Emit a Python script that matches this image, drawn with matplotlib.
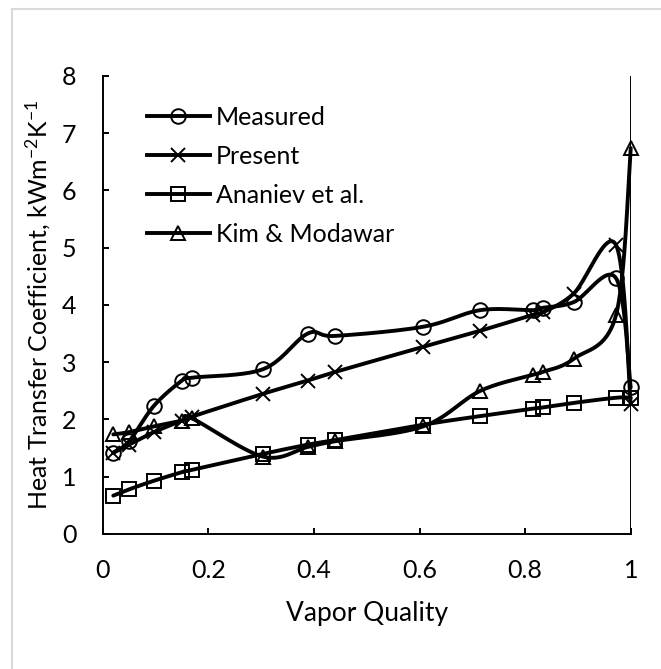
import numpy as np
import matplotlib
matplotlib.use("Agg")
import matplotlib.pyplot as plt
from matplotlib.lines import Line2D
from matplotlib.patches import Rectangle

plt.rcParams['font.family'] = ['Lato', 'DejaVu Sans']
plt.rcParams['mathtext.fontset'] = 'custom'
plt.rcParams['mathtext.rm'] = 'Lato'
plt.rcParams['mathtext.it'] = 'Lato:italic'

# vapor quality (same for every series)
quality = [0.02, 0.05, 0.097, 0.15, 0.169, 0.304, 0.388, 0.44, 0.607,
           0.715, 0.815, 0.833, 0.892, 0.972, 1.0]

measured = [1.42, 1.62, 2.24, 2.68, 2.73, 2.88, 3.50, 3.46, 3.62,
            3.91, 3.91, 3.95, 4.05, 4.47, 2.56]
present = [1.42, 1.56, 1.78, 1.98, 2.05, 2.45, 2.68, 2.83, 3.27,
           3.55, 3.83, 3.87, 4.20, 5.05, 2.27]
ananiev = [0.67, 0.78, 0.93, 1.08, 1.12, 1.40, 1.56, 1.64, 1.91,
           2.06, 2.19, 2.21, 2.29, 2.38, 2.38]
kim = [1.74, 1.78, 1.88, 1.98, 2.02, 1.35, 1.52, 1.62, 1.88,
       2.50, 2.78, 2.83, 3.06, 3.82, 6.74]

labels = ['Measured', 'Present', 'Ananiev et al.', 'Kim & Modawar']
markers = ['o', 'x', 's', '^']


def smooth(x, y, n=30):
    # excel like smoothed line (bezier through points, 1/6 tangents)
    p = np.column_stack([x, y]).astype(float)
    p_ext = np.vstack([p[0], p, p[-1]])
    xs, ys = [], []
    t = np.linspace(0, 1, n)
    for i in range(len(p) - 1):
        p0, p1, p2, p3 = p_ext[i], p_ext[i + 1], p_ext[i + 2], p_ext[i + 3]
        c1 = p1 + (p2 - p0) / 6
        c2 = p2 - (p3 - p1) / 6
        seg = ((1 - t)**3)[:, None] * p1 + (3 * (1 - t)**2 * t)[:, None] * c1 \
            + (3 * (1 - t) * t**2)[:, None] * c2 + (t**3)[:, None] * p2
        xs.extend(seg[:, 0])
        ys.extend(seg[:, 1])
    return xs, ys


fig = plt.figure(figsize=(6.61, 6.69), dpi=100)
ax = fig.add_axes([0.1554, 0.2018, 0.7988, 0.6846])

fig.patches.append(Rectangle((12 / 661, -0.1), 1.2, 1 - 9 / 669 + 0.1,
                             transform=fig.transFigure, fill=False,
                             edgecolor='#d9d9d9', lw=1.5, zorder=0))

ax.axvline(1, color='black', lw=1.4, zorder=1)

handles = []
for ys, lab, m in zip([measured, present, ananiev, kim], labels, markers):
    sx, sy = smooth(quality, ys)
    ax.plot(sx, sy, color='black', lw=2.8, solid_capstyle='round', clip_on=False)
    ax.plot(quality, ys, ls='none', marker=m, ms=10.5, mfc='none', mec='black',
            mew=1.4, clip_on=False)
    handles.append(Line2D([], [], color='black', lw=2.8, marker=m, ms=10.5,
                          mfc='none', mec='black', mew=1.4))

ax.set_xlim(0, 1)
ax.set_ylim(0, 8)
ax.set_xticks([0, 0.2, 0.4, 0.6, 0.8, 1])
ax.set_xticklabels(['0', '0.2', '0.4', '0.6', '0.8', '1'])
ax.set_yticks(range(9))

ax.spines['top'].set_visible(False)
ax.spines['right'].set_visible(False)
for s in ['left', 'bottom']:
    ax.spines[s].set_linewidth(1.4)
ax.tick_params(direction='in', length=4, width=1.4, labelsize=18)
ax.tick_params(axis='x', pad=18)
ax.tick_params(axis='y', pad=19)

ax.set_xlabel('Vapor Quality', fontsize=19, labelpad=14)
ax.set_ylabel(r'Heat Transfer Coefficient, kWm$^{-2}$K$^{-1}$', fontsize=18,
              labelpad=6)

ax.legend(handles, labels, loc='upper left', frameon=False, fontsize=18,
          handlelength=2.5, handletextpad=0.25, labelspacing=0.64,
          bbox_to_anchor=(0.065, 0.956), borderaxespad=0)

fig.savefig('out.png', dpi=100)
